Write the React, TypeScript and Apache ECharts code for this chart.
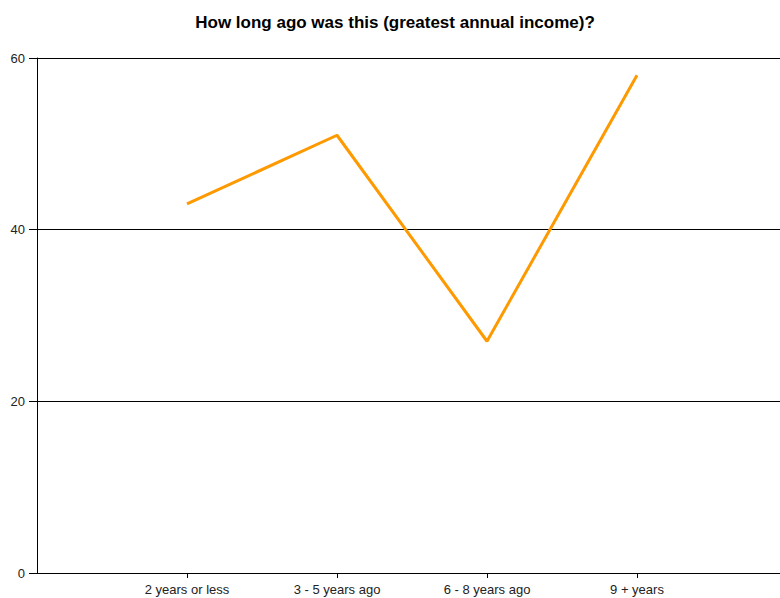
import React, { useEffect, useRef } from "react";
import * as echarts from "echarts";

const categories: string[] = ["", "2 years or less", "3 - 5 years ago", "6 - 8 years ago", "9 + years", ""];
const values: (number | null)[] = [null, 43, 51, 27, 58, null];
const yTicks: number[] = [0, 20, 40, 60];
const titleText = "How long ago was this (greatest annual income)?";

export default function App() {
  const ref = useRef<HTMLDivElement>(null);
  useEffect(() => {
    document.body.style.margin = "0";
    const chart = echarts.init(ref.current!, null, { renderer: "svg" });
    chart.setOption({
      animation: false,
      backgroundColor: "#ffffff",
      textStyle: { fontFamily: "Liberation Sans, Arial, sans-serif" },
      title: {
        text: titleText,
        left: 390,
        textAlign: "center",
        top: 9,
        textStyle: { fontSize: 17, fontWeight: "bold", color: "#000", fontFamily: "Liberation Sans, Arial, sans-serif" },
      },
      grid: { left: 37, right: 3, top: 58, bottom: 25, containLabel: false },
      xAxis: {
        type: "category",
        data: categories,
        boundaryGap: false,
        axisLine: { show: true, lineStyle: { color: "#000", width: 1 } },
        axisTick: {
          show: true,
          length: 5,
          lineStyle: { color: "#000" },
          interval: (_i: number, v: string) => v !== "",
        },
        axisLabel: { color: "#222", fontSize: 13, margin: 10, interval: 0 },
        splitLine: { show: false },
      },
      yAxis: {
        type: "value",
        min: yTicks[0],
        max: yTicks[yTicks.length - 1],
        interval: 20,
        axisLine: { show: true, lineStyle: { color: "#000", width: 1 } },
        axisTick: { show: true, length: 8, lineStyle: { color: "#000" } },
        axisLabel: { color: "#222", fontSize: 13, margin: 12 },
        splitLine: { show: true, lineStyle: { color: "#000", width: 1 } },
      },
      series: [
        {
          type: "line",
          data: values,
          connectNulls: false,
          symbol: "none",
          lineStyle: { color: "#FF9900", width: 3 },
          itemStyle: { color: "#FF9900" },
        },
      ],
    });
    return () => chart.dispose();
  }, []);
  return (
    <div style={{ width: 780, height: 598, position: "absolute", left: 0, top: 0, overflow: "hidden" }}>
      <div ref={ref} style={{ width: 790, height: 598 }} />
    </div>
  );
}
